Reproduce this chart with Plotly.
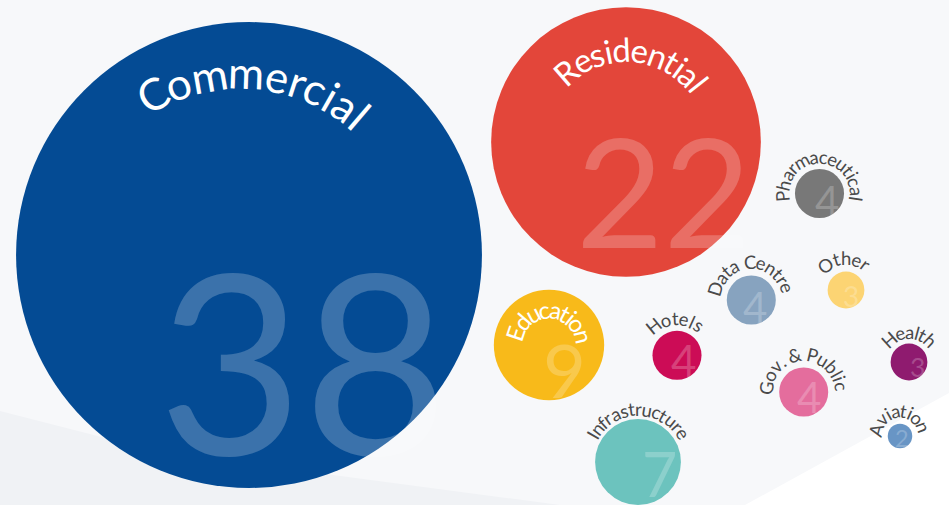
import math
import plotly.graph_objects as go

# Number of projects per sector
sectors = ["Commercial", "Residential", "Education", "Infrastructure", "Hotels",
           "Data Centre", "Pharmaceutical", "Other", "Gov. & Public", "Health", "Aviation"]
projects = [38, 22, 9, 7, 4, 4, 4, 3, 4, 3, 2]

# ---- presentation settings -------------------------------------------------
W, H = 949, 505
RADIUS_PER_PROJECT = 6.13          # bubble radius grows linearly with the count

# bubble centres (canvas px)
centre_x = [249, 626, 549, 638, 677, 751.3, 819.5, 846, 803.7, 909, 900]
centre_y = [255, 142, 345, 462, 355.3, 300, 193.5, 290, 392, 362, 436]

colours = ["#044b94", "#e3463a", "#f8ba1a", "#6cc3be", "#cc0c56", "#87a3bf",
           "#787878", "#fcd473", "#e46d9d", "#8f1b6f", "#6895c5"]

# curved sector names: (arc radius, mid angle deg, font px, tracking px, dx, dy, inside)
label_arcs = [
    (184, 6.0, 44, 1.9, -9, 1, True),
    (93, 5.5, 33, 1.1, 0, 0, True),
    (36, 2.5, 24, 0.6, 0, 0, True),
    (53, -1.4, 18.5, 0.6, 0, 0, False),
    (37, -1.4, 18.5, 1.5, 0, 0, False),
    (38, -0.7, 18.5, 1.2, 0, 0, False),
    (37, 2.0, 18.5, 0.9, 0, 0, False),
    (32, -0.8, 18.5, 1.5, 0, 0, False),
    (38, -1.0, 18.5, 1.4, 0, 0, False),
    (30, 0.8, 18.5, 0.8, 0, 0, False),
    (25, -3.0, 18.5, 1.3, 0, 0, False),
]

# big count figures: (font px, dx, dy) relative to the bubble centre
count_style = [
    (250, 54, 110), (151, 37, 52), (74, 15, 26), (61, 21, 13), (44, 7, 6),
    (42, 4, 8), (42, 7.5, 8.5), (28, 5, 7), (42, 5, 6), (26.5, 8, 5.5), (23.6, 2, 2.5),
]

# approximate advance widths (em) for laying glyphs along an arc
ADV = {
    " ": 0.193, ".": 0.21, "&": 0.67,
    "A": 0.68, "C": 0.66, "D": 0.74, "E": 0.56, "G": 0.72, "H": 0.76, "I": 0.28,
    "O": 0.79, "P": 0.58, "R": 0.61,
    "a": 0.48, "b": 0.54, "c": 0.45, "d": 0.54, "e": 0.51, "f": 0.32, "h": 0.54,
    "i": 0.23, "l": 0.23, "m": 0.82, "n": 0.54, "o": 0.54, "r": 0.36, "s": 0.42,
    "t": 0.34, "u": 0.54, "v": 0.49,
}
FONT = "Lato"


def glyphs_on_arc(text, cx, cy, radius, mid_deg, size, tracking):
    """Place each character of text along a circular arc (clockwise, top)."""
    adv = [ADV.get(ch, 0.5) * size for ch in text]
    centres, s = [], 0.0
    for a in adv:
        centres.append(s + a / 2)
        s += a + tracking
    ref = (centres[0] + centres[-1]) / 2
    placed = []
    for ch, p in zip(text, centres):
        th = math.radians(mid_deg) + (p - ref) / radius
        placed.append((ch, cx + radius * math.sin(th), cy - radius * math.cos(th),
                       math.degrees(th)))
    return placed


fig = go.Figure()

fig.add_trace(go.Scatter(
    x=centre_x, y=centre_y, mode="markers",
    marker=dict(size=[2 * RADIUS_PER_PROJECT * v for v in projects],
                sizemode="diameter", color=colours, opacity=1,
                line=dict(width=0)),
    text=sectors, hoverinfo="text", showlegend=False,
))

annotations = []

# count figures, faint white over each bubble
for v, cx, cy, (fs, dx, dy) in zip(projects, centre_x, centre_y, count_style):
    annotations.append(dict(
        x=cx + dx, y=cy + dy - 0.027 * fs, xref="x", yref="y",
        text=str(v), showarrow=False, xanchor="center", yanchor="middle",
        font=dict(family=FONT, size=fs, color="rgba(255,255,255,0.22)"),
    ))

# curved sector names
for name, cx, cy, (rad, mid, fs, trk, dx, dy, inside) in zip(
        sectors, centre_x, centre_y, label_arcs):
    col = "#ffffff" if inside else "#4a4a4a"
    for ch, x, y, ang in glyphs_on_arc(name, cx + dx, cy + dy, rad, mid, fs, trk):
        if ch == " ":
            continue
        annotations.append(dict(
            x=x, y=y, xref="x", yref="y", text=ch, showarrow=False,
            xanchor="center", yanchor="middle", textangle=ang,
            font=dict(family=FONT, size=fs, color=col),
        ))

# soft background facets
shapes = [
    dict(type="path", path="M 949 393 L 949 505 L 745 505 Z",
         fillcolor="#ffffff", line=dict(width=0), layer="below",
         xref="x", yref="y"),
    dict(type="path", path="M 0 411 L 160 452 L 560 505 L 0 505 Z",
         fillcolor="#f0f2f5", line=dict(width=0), layer="below",
         xref="x", yref="y"),
]

fig.update_layout(
    width=W, height=H, autosize=False,
    margin=dict(l=0, r=0, t=0, b=0, pad=0),
    paper_bgcolor="#f7f8fa", plot_bgcolor="#f7f8fa",
    xaxis=dict(range=[0, W], visible=False, fixedrange=True),
    yaxis=dict(range=[H, 0], visible=False, fixedrange=True),
    annotations=annotations, shapes=shapes,
    hovermode="closest",
)

fig.write_html("out.html", config={"displayModeBar": False})
